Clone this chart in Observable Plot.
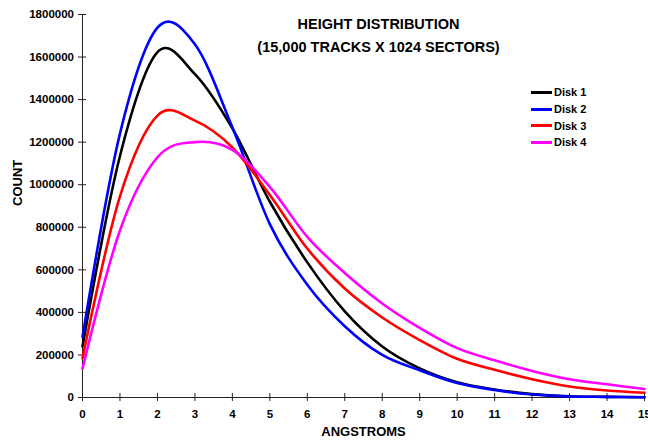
<!DOCTYPE html>
<html><head><meta charset="utf-8">
<script src="https://cdn.jsdelivr.net/npm/d3@7"></script>
<script src="https://cdn.jsdelivr.net/npm/@observablehq/plot@0.6"></script>
<style>
body{margin:0;background:#fff;font-family:Arial,"Liberation Sans",sans-serif;}
#wrap{position:relative;width:648px;height:440px;}
#legend{position:absolute;left:531px;top:84px;font-size:11px;font-weight:bold;color:#000;}
.row{display:flex;align-items:center;height:16.7px;}
.sw{width:21px;height:3px;margin-right:2px;}
</style></head><body><div id="wrap"></div>
<script>
const angstroms = [0,1,2,3,4,5,6,7,8,9,10,11,12,13,14,15];
const seriesNames = ["Disk 1","Disk 2","Disk 3","Disk 4"];
const seriesColors = ["#000000","#0000ff","#ff0000","#ff00ff"];
const disk1 = [240000,1135000,1623000,1520000,1265000,920000,635000,405000,240000,137000,72000,38000,16000,6000,3000,1000];
const disk2 = [285000,1240000,1738000,1660000,1270000,815000,530000,335000,200000,128000,68000,35000,14000,5000,3000,1000];
const disk3 = [185000,945000,1325000,1301000,1175000,952000,700000,512000,376000,270000,182000,130000,86000,52000,33000,22000];
const disk4 = [135000,785000,1129000,1200000,1164000,990000,755000,585000,442000,327000,232000,175000,125000,86000,62000,40000];
const xTicks = [0,1,2,3,4,5,6,7,8,9,10,11,12,13,14,15];
const yTicks = [0,200000,400000,600000,800000,1000000,1200000,1400000,1600000,1800000];
const titleLines = ["HEIGHT DISTRIBUTION","(15,000 TRACKS X 1024 SECTORS)"];
const xLabel = "ANGSTROMS";
const yLabel = "COUNT";

const seriesValues = [disk1,disk2,disk3,disk4];
const data = seriesNames.flatMap((name,i)=>seriesValues[i].map((v,j)=>({series:name,x:angstroms[j],count:v})));
const font = 'Arial,"Liberation Sans",sans-serif';

const chart = Plot.plot({
  width:648, height:440,
  marginLeft:82, marginRight:4, marginTop:14, marginBottom:43,
  style:{fontFamily:font, fontSize:"11.5px", fontWeight:"bold", background:"#fff", color:"#000", overflow:"visible"},
  x:{domain:[0,15]},
  y:{domain:[0,1800000]},
  color:{domain:seriesNames, range:seriesColors},
  marks:[
    Plot.axisX({ticks:xTicks, tickSize:8, dy:-4, tickPadding:8, tickFormat:d=>String(d), label:null, fontWeight:"bold", stroke:"#222"}),
    Plot.axisY({ticks:yTicks, tickSize:8, dx:4, tickPadding:4.5, tickFormat:d=>String(d), label:null, fontWeight:"bold", stroke:"#222"}),
    Plot.ruleX([0], {stroke:"#222"}),
    Plot.ruleY([0], {stroke:"#222"}),
    Plot.line(data, {x:"x", y:"count", stroke:"series", strokeWidth:2.6, curve:"cardinal", tension:0}),
    Plot.text([xLabel], {text:d=>d, frameAnchor:"bottom", dy:38, fontSize:13, fontWeight:"bold"}),
    Plot.text([yLabel], {text:d=>d, frameAnchor:"left", dx:-65, rotate:-90, fontSize:13, fontWeight:"bold"}),
    Plot.text([titleLines[0]], {text:d=>d, frameAnchor:"top", dx:15, dy:4, fontSize:14.5, fontWeight:"bold"}),
    Plot.text([titleLines[1]], {text:d=>d, frameAnchor:"top", dx:15, dy:27, fontSize:14.5, fontWeight:"bold"})
  ]
});
const wrap = document.getElementById("wrap");
wrap.appendChild(chart);
const legend = document.createElement("div");
legend.id = "legend";
seriesNames.forEach((n,i)=>{
  const row = document.createElement("div"); row.className="row";
  const sw = document.createElement("div"); sw.className="sw"; sw.style.background=seriesColors[i];
  const t = document.createElement("span"); t.textContent=n;
  row.appendChild(sw); row.appendChild(t); legend.appendChild(row);
});
wrap.appendChild(legend);
</script></body></html>
